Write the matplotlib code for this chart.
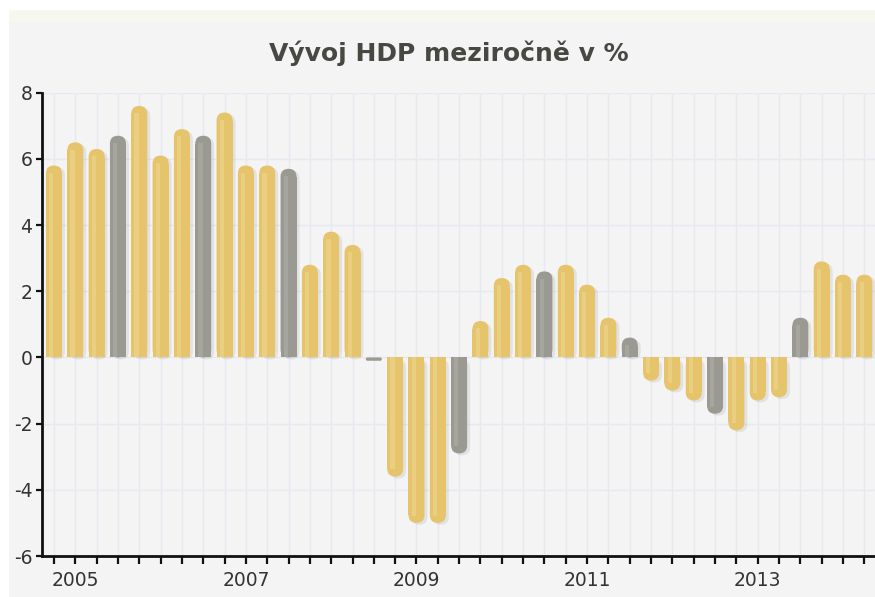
import matplotlib
matplotlib.use("Agg")
import matplotlib.pyplot as plt
from matplotlib.patches import FancyBboxPatch, Rectangle
import numpy as np

values = [5.8, 6.5, 6.3, 6.7, 7.6, 6.1, 6.9, 6.7, 7.4, 5.8, 5.8, 5.7,
          2.8, 3.8, 3.4, -0.1, -3.6, -5.0, -5.0, -2.9, 1.1, 2.4, 2.8, 2.6,
          2.8, 2.2, 1.2, 0.6, -0.7, -1.0, -1.3, -1.7, -2.2, -1.3, -1.2,
          1.2, 2.9, 2.5, 2.5]
grey_idx = [3, 7, 11, 15, 19, 23, 27, 31, 35]
year_ticks = [1, 9, 17, 25, 33]
year_labels = ["2005", "2007", "2009", "2011", "2013"]
yticks = [-6, -4, -2, 0, 2, 4, 6, 8]
title = "Vývoj HDP meziročně v %"

W, H = 875, 597
fig = plt.figure(figsize=(W / 100, H / 100), dpi=100)
fig.patch.set_facecolor("white")
# background panel
fig.patches.append(Rectangle((9 / W, 0), 1, 1 - 10 / H, transform=fig.transFigure,
                             facecolor="#f4f4f4", edgecolor="none", zorder=-10))
fig.patches.append(Rectangle((9 / W, 1 - 22 / H), 1, 12 / H, transform=fig.transFigure,
                             facecolor="#f7f7f0", edgecolor="none", zorder=-9))

left_px, right_px, top_px, bot_px = 42, 875, 92.7, 556
ax = fig.add_axes([left_px / W, 1 - bot_px / H, (right_px - left_px) / W, (bot_px - top_px) / H])
ax.set_facecolor("#f4f4f4")

x = np.arange(len(values))
ax.set_xlim(-0.56, 38.5)
ax.set_ylim(-6, 8)

# pixel-to-data scales
px_x = (38.5 + 0.56) / (right_px - left_px)
px_y = 14 / (bot_px - top_px)
aspect = px_y / px_x

bw = 0.75
bars = ax.bar(x, values, width=bw, color="none", edgecolor="none")
gold, gold_hi = "#e5c46c", "#efd999"
grey, grey_hi = "#9a9a92", "#b3b3ab"
r = bw / 2
for i, b in enumerate(bars):
    x0 = b.get_x()
    v = values[i]
    isg = i in grey_idx
    c = grey if isg else gold
    ch = grey_hi if isg else gold_hi
    h = abs(v)
    y0 = min(0, v)
    cap = r * aspect  # cap height in data units
    sdx, sdy = 3 * px_x, 2 * px_y
    if h < 2 * cap:
        # tiny bar: small rounded blob
        rs = min(r, h / aspect / 2) if h > 0 else 0
        ax.add_patch(FancyBboxPatch((x0, y0), bw, h,
                                    boxstyle=f"round,pad=0,rounding_size={rs}",
                                    mutation_aspect=aspect, facecolor=c,
                                    edgecolor="none", zorder=3))
        if h > cap:
            if v >= 0:
                ax.add_patch(Rectangle((x0, 0), bw, h / 2, facecolor=c, edgecolor="none", zorder=3))
            else:
                ax.add_patch(Rectangle((x0, -h / 2), bw, h / 2, facecolor=c, edgecolor="none", zorder=3))
        continue
    # shadow
    ax.add_patch(FancyBboxPatch((x0 + sdx, y0 - sdy), bw, h,
                                boxstyle=f"round,pad=0,rounding_size={r}",
                                mutation_aspect=aspect, facecolor="#000000",
                                alpha=0.07, edgecolor="none", zorder=2))
    # main rounded bar
    ax.add_patch(FancyBboxPatch((x0, y0), bw, h,
                                boxstyle=f"round,pad=0,rounding_size={r}",
                                mutation_aspect=aspect, facecolor=c,
                                edgecolor="none", zorder=3))
    # flat base
    rh = h - cap
    if v >= 0:
        ax.add_patch(Rectangle((x0, 0), bw, rh, facecolor=c, edgecolor="none", zorder=3))
    else:
        ax.add_patch(Rectangle((x0, -rh), bw, rh, facecolor=c, edgecolor="none", zorder=3))
    # highlight stripe
    hw = bw * 0.26
    hx = x0 + bw * 0.2
    hh = h - cap * 0.9
    if v >= 0:
        ax.add_patch(Rectangle((hx, 0), hw, hh, facecolor=ch, edgecolor="none",
                               alpha=0.5, zorder=4))
    else:
        ax.add_patch(Rectangle((hx, -hh), hw, hh, facecolor=ch, edgecolor="none",
                               alpha=0.5, zorder=4))

# grid
ax.set_xticks(x, minor=True)
ax.set_xticks(year_ticks)
ax.set_xticklabels(year_labels)
ax.set_yticks(yticks)
ax.set_yticklabels([str(t) for t in yticks])
ax.grid(True, which="both", axis="x", color="#e6e9f0", linewidth=1, zorder=0)
ax.grid(True, which="major", axis="y", color="#e6e9f0", linewidth=1, zorder=0)
ax.set_axisbelow(True)

for s in ["top", "right"]:
    ax.spines[s].set_visible(False)
for s in ["left", "bottom"]:
    ax.spines[s].set_linewidth(2)
    ax.spines[s].set_color("#111111")

ax.tick_params(axis="x", which="both", length=6, width=1.6, color="#111111",
               labelsize=13.5, labelcolor="#333333", pad=5)
ax.tick_params(axis="y", which="major", length=4, width=1.6, color="#111111",
               labelsize=13.5, labelcolor="#333333", pad=3)

fig.text(449 / W, 1 - 53 / H, title, ha="center", va="center",
         fontsize=18, fontweight="bold", color="#484842")

fig.savefig("out.png", dpi=100, facecolor=fig.get_facecolor())
